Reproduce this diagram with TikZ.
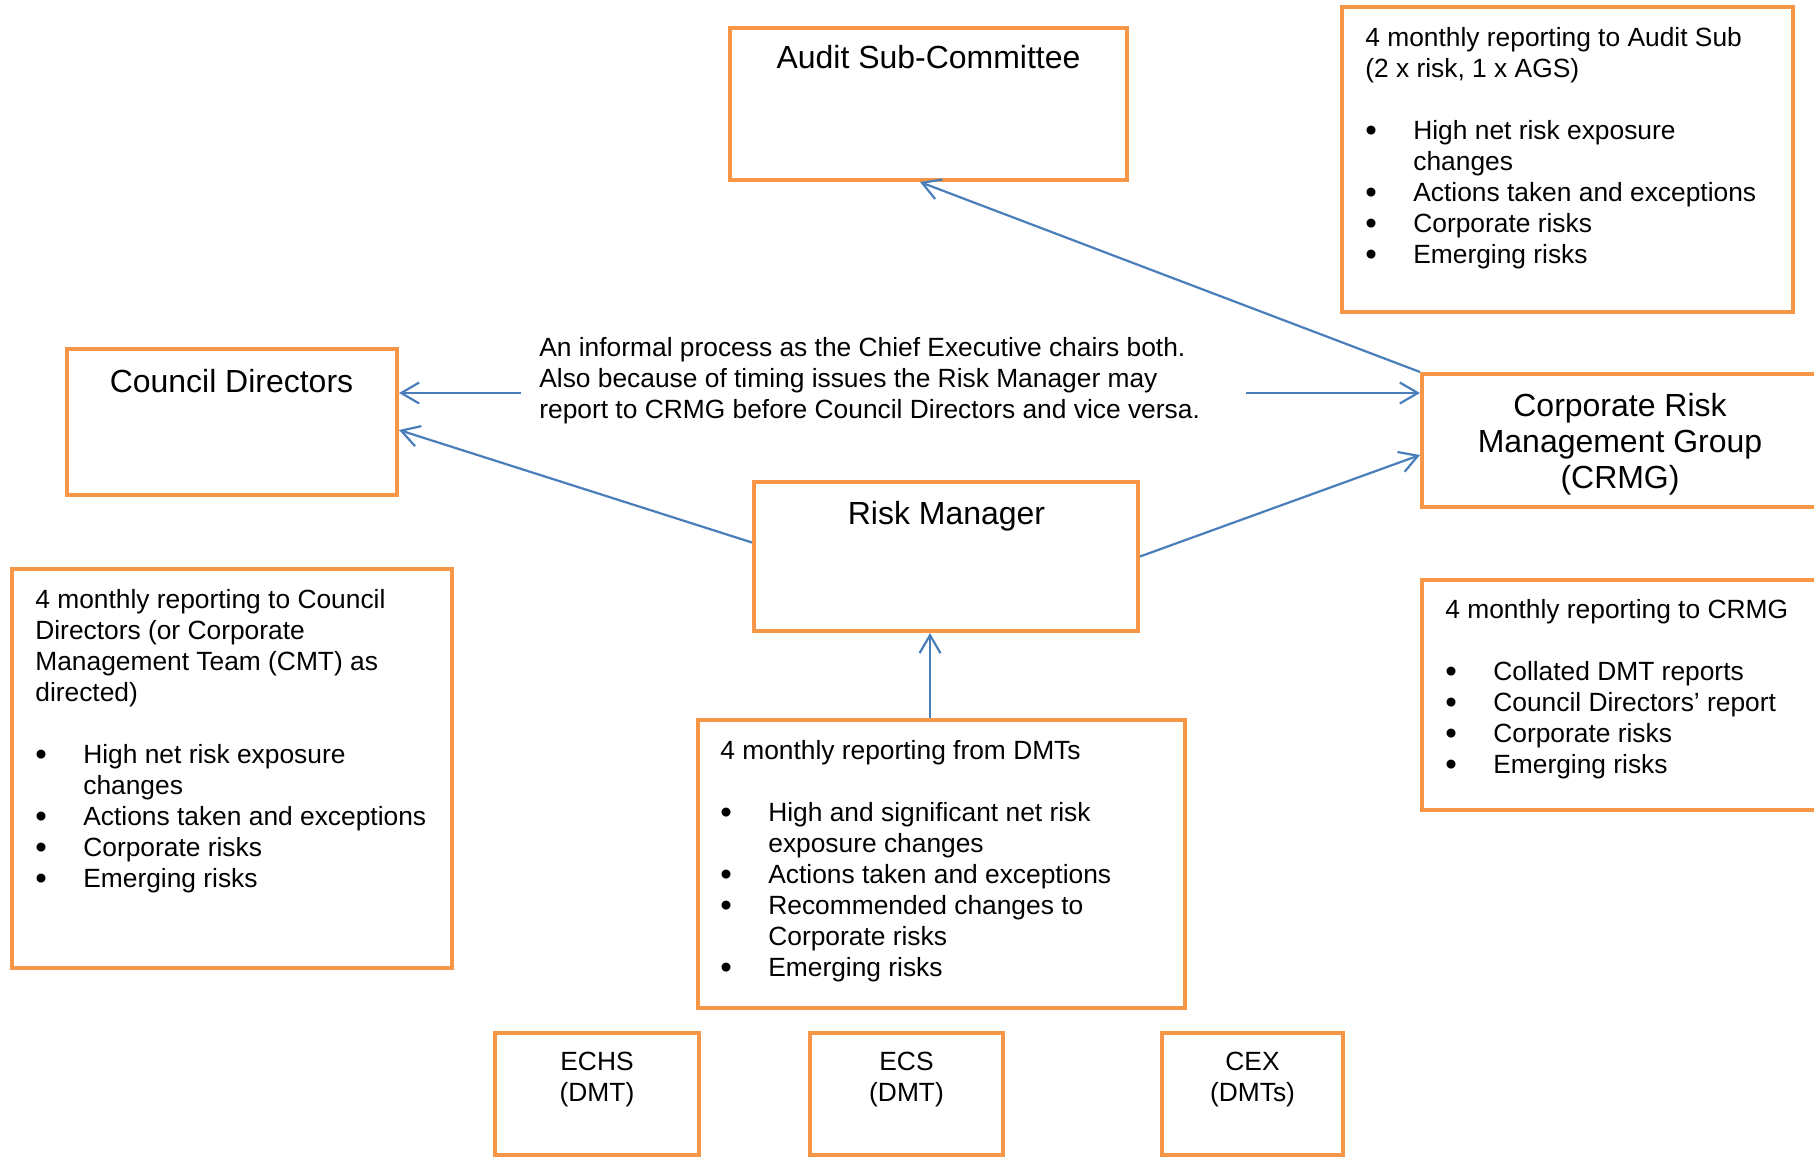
\documentclass[tikz,border=0pt]{standalone}
\usepackage{fontspec}
\setmainfont{Liberation Sans}
\usepackage{xcolor}
\usepackage{graphicx}
\usepackage{tikz}
\usetikzlibrary{arrows.meta,fit}
\definecolor{boxorange}{HTML}{F79646}
\definecolor{arrowblue}{HTML}{4A7EBB}
\tikzset{
  box/.style={draw=boxorange, line width=2.3pt, inner sep=0pt},
  ttl/.style={inner sep=0pt, anchor=base, align=center, font=\fontsize{18.2}{20.4}\selectfont},
  txt/.style={inner sep=0pt, anchor=base west, align=left, font=\fontsize{15}{17.6}\selectfont},
  unit/.style={inner sep=0pt, anchor=base, align=center, font=\fontsize{15}{17.6}\selectfont},
  arr/.style={draw=arrowblue, line width=1.25pt, -{Straight Barb[length=0.36cm,width=0.42cm]}}
}
\newcommand{\itemmark}{\makebox[0.96cm][l]{\raisebox{-1.2pt}{\scalebox{1.25}{\textbullet}}}}
\newcommand{\itemcont}{\hspace*{0.96cm}}

\begin{document}
\begin{tikzpicture}[x=0.02cm, y=-0.02cm]
      \clip (0,0) rectangle (1814,1159);
      \fill[white] (0,0) rectangle (1814,1159);

      \node[box, fit={(730,28) (1127,180)}] (audit) {};
      \node[ttl] at (928.5,69) (audittitle) {Audit Sub-Committee};

      \node[box, fit={(1342,7) (1793,312)}] (auditnote) {};
      \node[txt] at (1365,263) (auditnotetext) {4 monthly reporting to Audit Sub\\(2 x risk, 1 x AGS)\\[17.6pt]
        \itemmark High net risk exposure\\\itemcont changes\\\itemmark Actions taken and exceptions\\
        \itemmark Corporate risks\\\itemmark Emerging risks};

      \node[box, fit={(67,349) (397,495)}] (council) {};
      \node[ttl] at (231.5,392) (counciltitle) {Council Directors};

      \node[txt] at (539,418) (informal) {An informal process as the Chief Executive chairs both.\\
        Also because of timing issues the Risk Manager may\\report to CRMG before Council Directors and vice versa.};
      \coordinate (lefttail) at (521,393);
      \coordinate (righttail) at (1246,393);

      \node[box, fit={(1422,374) (1840,507)}] (crmg) {};
      \node[ttl] at (1620,488.5) (crmgtitle) {Corporate Risk\\Management Group\\(CRMG)};

      \node[box, fit={(754,482) (1138,631)}] (rm) {};
      \node[ttl] at (946.5,524) (rmtitle) {Risk Manager};

      \node[box, fit={(12,569) (452,968)}] (councilnote) {};
      \node[txt] at (35,887) (councilnotetext) {4 monthly reporting to Council\\Directors (or Corporate\\Management Team (CMT) as\\directed)\\[17.6pt]
        \itemmark High net risk exposure\\\itemcont changes\\\itemmark Actions taken and exceptions\\
        \itemmark Corporate risks\\\itemmark Emerging risks};

      \node[box, fit={(698,720) (1185,1008)}] (dmtnote) {};
      \node[txt] at (720,976) (dmtnotetext) {4 monthly reporting from DMTs\\[17.6pt]
        \itemmark High and significant net risk\\\itemcont exposure changes\\\itemmark Actions taken and exceptions\\
        \itemmark Recommended changes to\\\itemcont Corporate risks\\\itemmark Emerging risks};

      \node[box, fit={(1422,580) (1840,810)}] (crmgnote) {};
      \node[txt] at (1445,773) (crmgnotetext) {4 monthly reporting to CRMG\\[17.6pt]
        \itemmark Collated DMT reports\\\itemmark Council Directors’ report\\
        \itemmark Corporate risks\\\itemmark Emerging risks};

      \node[box, fit={(495,1033) (699,1155)}] (echs) {};
      \node[unit] at (597,1101) (echstext) {ECHS\\(DMT)};
      \node[box, fit={(810,1033) (1003,1155)}] (ecs) {};
      \node[unit] at (906.5,1101) (ecstext) {ECS\\(DMT)};
      \node[box, fit={(1162,1033) (1343,1155)}] (cex) {};
      \node[unit] at (1252.5,1101) (cextext) {CEX\\(DMTs)};

      \draw[arr] (lefttail) -- (council.east |- lefttail);
      \draw[arr] (righttail) -- (crmg.west |- righttail);
      \draw[arr] ([yshift=0.28cm]rm.west) -- ([yshift=-0.16cm]council.east);
      \draw[arr] (rm.east) -- ([yshift=-0.29cm]crmg.west);
      \draw[arr] (crmg.north west) -- ([xshift=-0.17cm]audit.south);
      \draw[arr] ([xshift=-0.32cm]rm.south |- dmtnote.north) -- ([xshift=-0.32cm]rm.south);
    \end{tikzpicture}
\end{document}
